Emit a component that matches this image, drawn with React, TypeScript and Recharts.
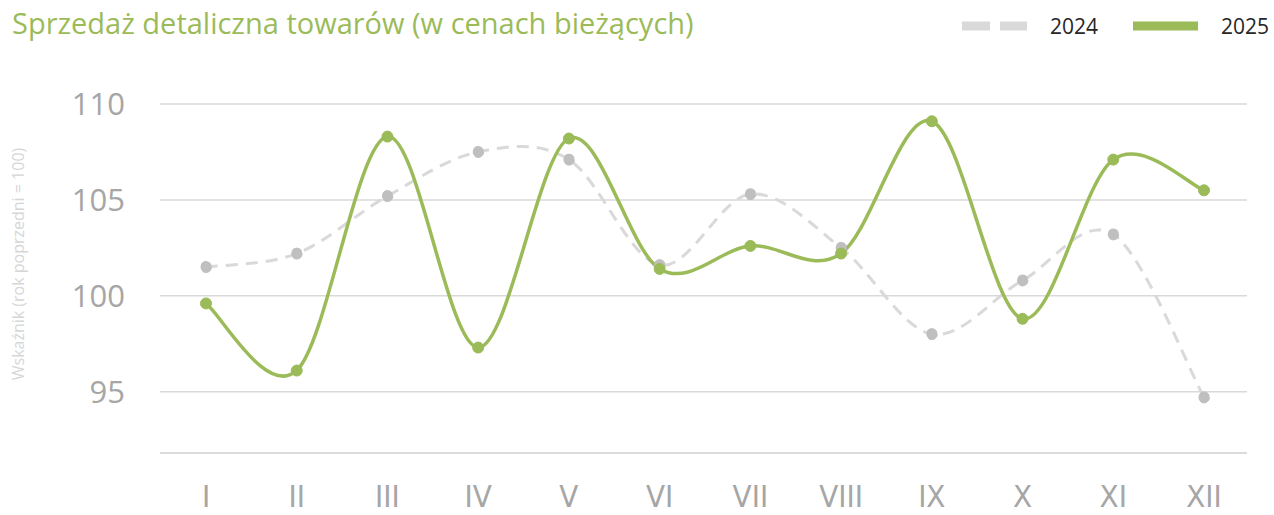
import { LineChart, Line, XAxis, YAxis, CartesianGrid } from "recharts";

const months = ["I", "II", "III", "IV", "V", "VI", "VII", "VIII", "IX", "X", "XI", "XII"];
const sales2024 = [101.5, 102.2, 105.2, 107.5, 107.1, 101.6, 105.3, 102.5, 98.0, 100.8, 103.2, 94.7];
const sales2025 = [99.6, 96.1, 108.3, 97.3, 108.2, 101.4, 102.6, 102.2, 109.1, 98.8, 107.1, 105.5];
const yTicks = [95, 100, 105, 110];

const series = [
  { key: "y2024", name: "2024", stroke: "#d9d9d9", dotFill: "#bfbfbf", width: 3, dash: "12 8" },
  { key: "y2025", name: "2025", stroke: "#9bbb59", dotFill: "#9bbb59", width: 3.5, dash: undefined },
];

const data = months.map((m, i) => ({ month: m, y2024: sales2024[i], y2025: sales2025[i] }));

// excel-like smoothed line (cardinal spline, tension 0)
const smoothCurve = (context: any) => {
  let pts: [number, number][] = [];
  return {
    areaStart() {},
    areaEnd() {},
    lineStart() {
      pts = [];
    },
    point(x: number, y: number) {
      pts.push([+x, +y]);
    },
    lineEnd() {
      if (!pts.length) return;
      context.moveTo(pts[0][0], pts[0][1]);
      for (let i = 0; i < pts.length - 1; i++) {
        const p0 = pts[i - 1] || pts[i];
        const p1 = pts[i];
        const p2 = pts[i + 1];
        const p3 = pts[i + 2] || p2;
        context.bezierCurveTo(
          p1[0] + (p2[0] - p0[0]) / 6,
          p1[1] + (p2[1] - p0[1]) / 6,
          p2[0] - (p3[0] - p1[0]) / 6,
          p2[1] - (p3[1] - p1[1]) / 6,
          p2[0],
          p2[1]
        );
      }
    },
  };
};

function LegendBox() {
  return (
    <div
      style={{
        position: "absolute",
        top: 12,
        right: 5,
        display: "flex",
        alignItems: "center",
        fontFamily: "'Open Sans', sans-serif",
        fontSize: 21,
        color: "#262626",
      }}
    >
      {series.map((s, i) => (
        <div key={s.key} style={{ display: "flex", alignItems: "center", marginLeft: i ? 35 : 0 }}>
          <svg width={65} height={10}>
            <line
              x1={0}
              y1={5}
              x2={65}
              y2={5}
              stroke={s.stroke}
              strokeWidth={9}
              strokeDasharray={s.dash ? "28 10" : undefined}
            />
          </svg>
          <span style={{ marginLeft: 23 }}>{s.name}</span>
        </div>
      ))}
    </div>
  );
}

export default function App() {
  return (
    <div style={{ position: "absolute", left: 0, top: 0, width: 1274, height: 515, background: "#fff" }}>
      <div
        style={{
          position: "absolute",
          left: 12,
          top: 3,
          fontFamily: "'Open Sans', sans-serif",
          fontSize: 29,
          color: "#9bbb59",
          whiteSpace: "nowrap",
        }}
      >
        Sprzedaż detaliczna towarów (w cenach bieżących)
      </div>
      <LegendBox />
      <LineChart width={1274} height={515} data={data} margin={{ top: 104, right: 27, bottom: 0, left: 0 }}>
        <CartesianGrid vertical={false} stroke="#d9d9d9" strokeWidth={1.5} />
        <XAxis
          dataKey="month"
          interval={0}
          height={62}
          padding={{ left: 46, right: 43 }}
          axisLine={{ stroke: "#d9d9d9", strokeWidth: 1.5 }}
          tickLine={false}
          tickMargin={26}
          tick={{ fill: "#a6a6a6", fontSize: 31, fontFamily: "'Liberation Sans Narrow', 'DejaVu Sans Condensed', sans-serif" }}
        />
        <YAxis
          width={160}
          domain={[91.8, 110]}
          ticks={yTicks}
          axisLine={false}
          tickLine={false}
          tickMargin={29}
          tick={{ fill: "#a6a6a6", fontSize: 31, fontFamily: "'Open Sans', sans-serif" }}
          label={{
            content: () => (
              <text
                x={18}
                y={264}
                transform="rotate(-90 18 264)"
                textAnchor="middle"
                dominantBaseline="central"
                fill="#d6d6d6"
                fontSize={16}
                fontFamily="'Open Sans', sans-serif"
              >
                Wskaźnik (rok poprzedni = 100)
              </text>
            ),
          }}
        />
        {series.map((s) => (
          <Line
            key={s.key}
            dataKey={s.key}
            name={s.name}
            type={smoothCurve as any}
            stroke={s.stroke}
            strokeWidth={s.width}
            strokeDasharray={s.dash}
            dot={{ r: 5.5, fill: s.dotFill, stroke: s.dotFill, strokeWidth: 1 }}
            activeDot={false}
            isAnimationActive={false}
          />
        ))}
      </LineChart>
    </div>
  );
}
